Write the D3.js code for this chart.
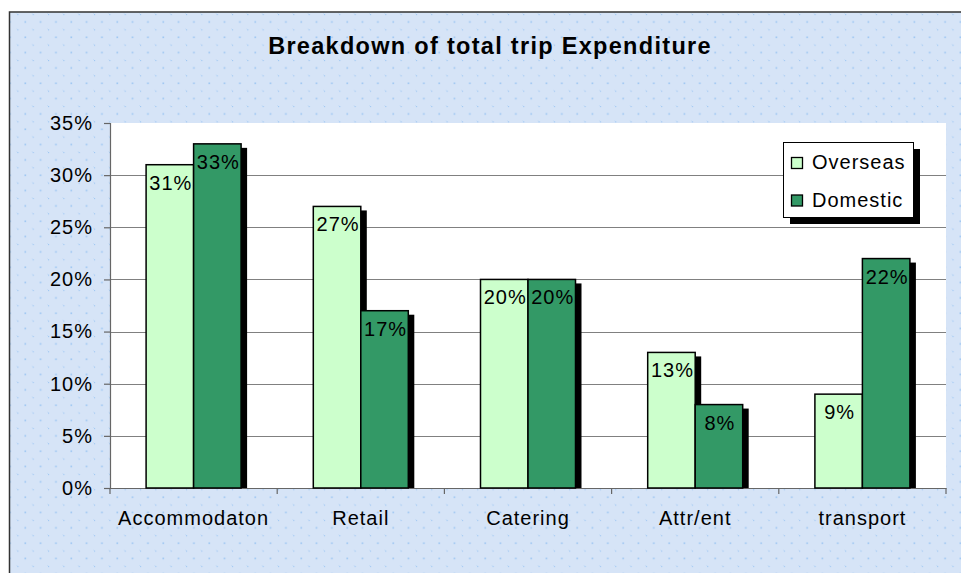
<!DOCTYPE html>
<html>
<head>
<meta charset="utf-8">
<script src="https://cdn.jsdelivr.net/npm/d3@7.9.0/dist/d3.min.js"></script>
<style>
  body { margin: 0; background: #fff; }
  svg { display: block; font-family: "Liberation Sans", Arial, sans-serif; }
</style>
</head>
<body>
<div id="viz"></div>
<script>
// chart data
const categories = ["Accommodaton", "Retail", "Catering", "Attr/ent", "transport"];
const seriesNames = ["Overseas", "Domestic"];
const overseas = [31, 27, 20, 13, 9];
const domestic = [33, 17, 20, 8, 22];
const yTicks = [0, 5, 10, 15, 20, 25, 30, 35];
const title = "Breakdown of total trip Expenditure";

const width = 961, height = 573;
const plot = {left: 110, right: 946, top: 123, bottom: 488};
const colors = {Overseas: "#ccffcc", Domestic: "#339966"};

const svg = d3.select("#viz")
  .append("svg")
  .attr("width", width)
  .attr("height", height);

// dotted background pattern
const defs = svg.append("defs");
const pat = defs.append("pattern")
  .attr("id", "dots")
  .attr("patternUnits", "userSpaceOnUse")
  .attr("x", 2).attr("y", 14)
  .attr("width", 15.33).attr("height", 15.33);
pat.append("rect").attr("width", 15.33).attr("height", 15.33).attr("fill", "#d6e4f7");
pat.append("rect").attr("x", -0.5).attr("y", -0.5).attr("width", 1.6).attr("height", 1.6).attr("fill", "#9cc6f3");
pat.append("rect").attr("x", 7.17).attr("y", 7.17).attr("width", 1.6).attr("height", 1.6).attr("fill", "#9cc6f3");
pat.append("rect").attr("x", 14.83).attr("y", 14.83).attr("width", 1.6).attr("height", 1.6).attr("fill", "#9cc6f3");

// chart area
svg.append("rect")
  .attr("x", 9.5).attr("y", 12)
  .attr("width", 1000).attr("height", 600)
  .attr("fill", "url(#dots)")
  .attr("stroke", "#333")
  .attr("stroke-width", 1.5);

// plot area
svg.append("rect")
  .attr("x", plot.left).attr("y", plot.top)
  .attr("width", plot.right - plot.left).attr("height", plot.bottom - plot.top)
  .attr("fill", "#fff");

// title
svg.append("text")
  .attr("x", 490).attr("y", 54)
  .attr("text-anchor", "middle")
  .attr("font-size", "23.5px")
  .attr("font-weight", "bold")
  .attr("letter-spacing", "1.3px")
  .text(title);

// scales
const y = d3.scaleLinear().domain([0, 35]).range([plot.bottom, plot.top]);
const x0 = d3.scaleBand().domain(categories).range([plot.left, plot.right]);
const x1 = d3.scaleBand().domain(seriesNames).range([0, x0.bandwidth()]).paddingOuter(0.76);

// gridlines
svg.append("g")
  .selectAll("line")
  .data(yTicks.filter(d => d > 0 && d < 35))
  .join("line")
  .attr("x1", plot.left).attr("x2", plot.right)
  .attr("y1", d => Math.round(y(d)) + 0.5).attr("y2", d => Math.round(y(d)) + 0.5)
  .attr("stroke", "#808080")
  .attr("stroke-width", 1.2);

// y axis
const yAxis = svg.append("g")
  .attr("transform", `translate(${plot.left},0)`)
  .call(d3.axisLeft(y).tickValues(yTicks).tickSize(6).tickPadding(11).tickFormat(d => d + "%"));
yAxis.selectAll("path, line").attr("stroke", "#666").attr("stroke-width", 1.2);
yAxis.selectAll("text")
  .attr("font-size", "20px")
  .attr("letter-spacing", "1px")
  .attr("font-family", "'Liberation Sans', Arial, sans-serif")
  .attr("fill", "#000");

// x axis
const xAxis = svg.append("g")
  .attr("transform", `translate(0,${plot.bottom})`)
  .call(d3.axisBottom(x0).tickSize(0).tickPadding(23));
xAxis.select(".domain").attr("stroke", "#666").attr("stroke-width", 1.2);
xAxis.selectAll("text")
  .attr("font-size", "20px")
  .attr("letter-spacing", "1px")
  .attr("font-family", "'Liberation Sans', Arial, sans-serif")
  .attr("fill", "#000");
// category boundary ticks
svg.append("g")
  .selectAll("line")
  .data(categories.map(c => x0(c)).concat([plot.right]))
  .join("line")
  .attr("x1", d => d).attr("x2", d => d)
  .attr("y1", plot.bottom).attr("y2", plot.bottom + 6)
  .attr("stroke", "#666")
  .attr("stroke-width", 1.2);

// bars: each series draws its shadow then its bars
const seriesData = [overseas, domestic];
seriesNames.forEach((s, si) => {
  const vals = seriesData[si];
  const g = svg.append("g");
  g.selectAll("rect.shadow")
    .data(vals)
    .join("rect")
    .attr("class", "shadow")
    .attr("x", (d, i) => x0(categories[i]) + x1(s) + 6)
    .attr("y", d => y(d) + 4)
    .attr("width", x1.bandwidth())
    .attr("height", d => plot.bottom - y(d) - 4)
    .attr("fill", "#000");
  g.selectAll("rect.bar")
    .data(vals)
    .join("rect")
    .attr("class", "bar")
    .attr("x", (d, i) => x0(categories[i]) + x1(s))
    .attr("y", d => y(d))
    .attr("width", x1.bandwidth())
    .attr("height", d => plot.bottom - y(d))
    .attr("fill", colors[s])
    .attr("stroke", "#000")
    .attr("stroke-width", 1.5);
});

// data labels
seriesNames.forEach((s, si) => {
  svg.append("g")
    .selectAll("text")
    .data(seriesData[si])
    .join("text")
    .attr("x", (d, i) => x0(categories[i]) + x1(s) + x1.bandwidth() / 2 + 1)
    .attr("y", d => y(d) + 25)
    .attr("text-anchor", "middle")
    .attr("font-size", "20px")
    .attr("letter-spacing", "1px")
    .text(d => d + "%");
});

// legend
const legend = svg.append("g").attr("transform", "translate(783,142)");
legend.append("rect")
  .attr("x", 7).attr("y", 7)
  .attr("width", 130).attr("height", 75)
  .attr("fill", "#000");
legend.append("rect")
  .attr("x", 0.5).attr("y", 0.5)
  .attr("width", 130).attr("height", 75)
  .attr("fill", "#fff")
  .attr("stroke", "#000")
  .attr("stroke-width", 1);
const items = legend.selectAll("g.item")
  .data(seriesNames)
  .join("g")
  .attr("class", "item")
  .attr("transform", (d, i) => `translate(0,${i * 37.5})`);
items.append("rect")
  .attr("x", 8.5).attr("y", 15.5)
  .attr("width", 11).attr("height", 11)
  .attr("fill", d => colors[d])
  .attr("stroke", "#000")
  .attr("stroke-width", 1.3);
items.append("text")
  .attr("x", 29).attr("y", 27)
  .attr("font-size", "20px")
  .attr("letter-spacing", "1px")
  .text(d => d);
</script>
</body>
</html>
